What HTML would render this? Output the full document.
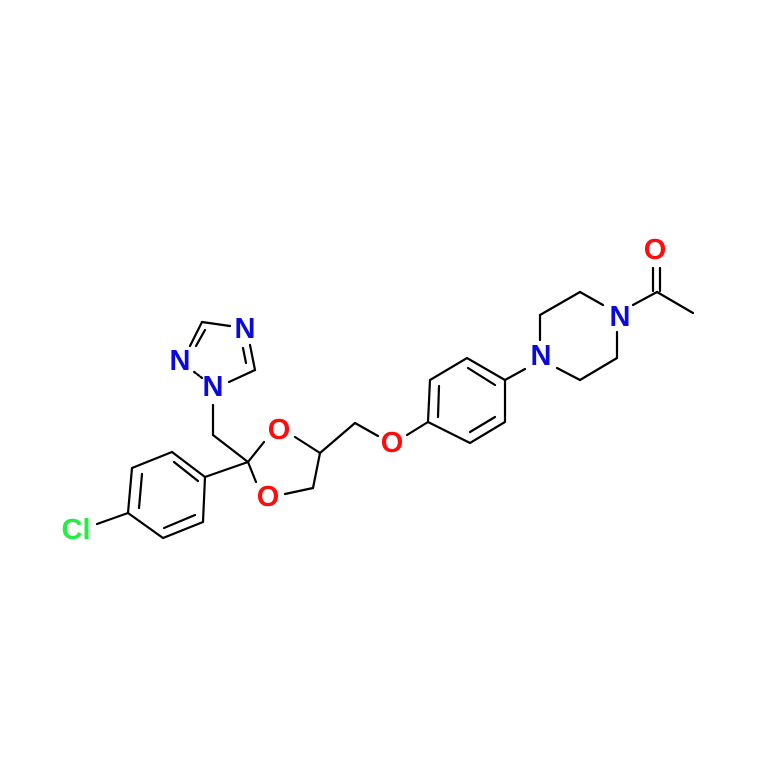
<!DOCTYPE html>
<html><head><meta charset="utf-8"><style>
html,body{margin:0;padding:0;background:#fff;}
svg{display:block;}
text{font-family:"Liberation Sans",sans-serif;font-size:29px;font-weight:bold;text-anchor:middle;dominant-baseline:central;}
</style></head><body>
<svg width="768" height="779" viewBox="0 0 768 779" xmlns="http://www.w3.org/2000/svg">
<g stroke="#000" stroke-width="2.2" fill="none" stroke-linecap="round">
<line x1="97" y1="524" x2="128" y2="513"/>
<polyline points="128,513 132,468 172,452 205,477 203,522 163,538 128,513"/>
<line x1="139" y1="508" x2="142" y2="474"/>
<line x1="174" y1="462" x2="198" y2="481"/>
<line x1="195" y1="515" x2="164" y2="528"/>
<line x1="205" y1="477" x2="248" y2="462"/>
<line x1="248" y1="462" x2="213" y2="435"/>
<line x1="213" y1="435" x2="213" y2="405"/>
<line x1="202" y1="378" x2="193" y2="371" stroke-dasharray="2,2"/>
<line x1="190" y1="346" x2="202" y2="322"/>
<line x1="196" y1="346" x2="205" y2="330"/>
<line x1="202" y1="322" x2="230" y2="326"/>
<line x1="250" y1="345" x2="255" y2="370"/>
<line x1="243" y1="348" x2="246" y2="363"/>
<line x1="255" y1="370" x2="229" y2="382"/>
<line x1="248" y1="462" x2="264" y2="442"/>
<line x1="248" y1="462" x2="256" y2="482"/>
<line x1="295" y1="437" x2="320" y2="453"/>
<line x1="320" y1="453" x2="313" y2="488"/>
<line x1="313" y1="488" x2="285" y2="494"/>
<line x1="320" y1="453" x2="355" y2="423"/>
<line x1="355" y1="423" x2="378" y2="436"/>
<line x1="407" y1="435" x2="428" y2="422"/>
<polyline points="428,422 430,380 467,358 505,380 505,422 470,443 428,422"/>
<line x1="438" y1="417" x2="439" y2="386"/>
<line x1="468" y1="368" x2="495" y2="385"/>
<line x1="495" y1="417" x2="470" y2="432"/>
<line x1="505" y1="380" x2="525" y2="369"/>
<line x1="540" y1="340" x2="540" y2="315"/>
<line x1="540" y1="315" x2="580" y2="292"/>
<line x1="580" y1="292" x2="603" y2="305"/>
<line x1="617" y1="332" x2="617" y2="358"/>
<line x1="617" y1="358" x2="580" y2="380"/>
<line x1="580" y1="380" x2="557" y2="368"/>
<line x1="633" y1="305" x2="657" y2="292"/>
<line x1="657" y1="292" x2="693" y2="313"/>
<line x1="653" y1="291" x2="653" y2="268"/>
<line x1="660" y1="291" x2="660" y2="268"/>
</g>
<g>
<text x="76" y="530" fill="#22ee44">Cl</text>
<text x="213" y="387" fill="#0a0adc">N</text>
<text x="180" y="361" fill="#0a0adc">N</text>
<text x="245" y="329" fill="#0a0adc">N</text>
<text x="279" y="430" fill="#ff0d0d">O</text>
<text x="268" y="497" fill="#ff0d0d">O</text>
<text x="392" y="443" fill="#ff0d0d">O</text>
<text x="541" y="356" fill="#0a0adc">N</text>
<text x="620" y="317" fill="#0a0adc">N</text>
<text x="655" y="250" fill="#ff0d0d">O</text>
</g>
</svg>
</body></html>
